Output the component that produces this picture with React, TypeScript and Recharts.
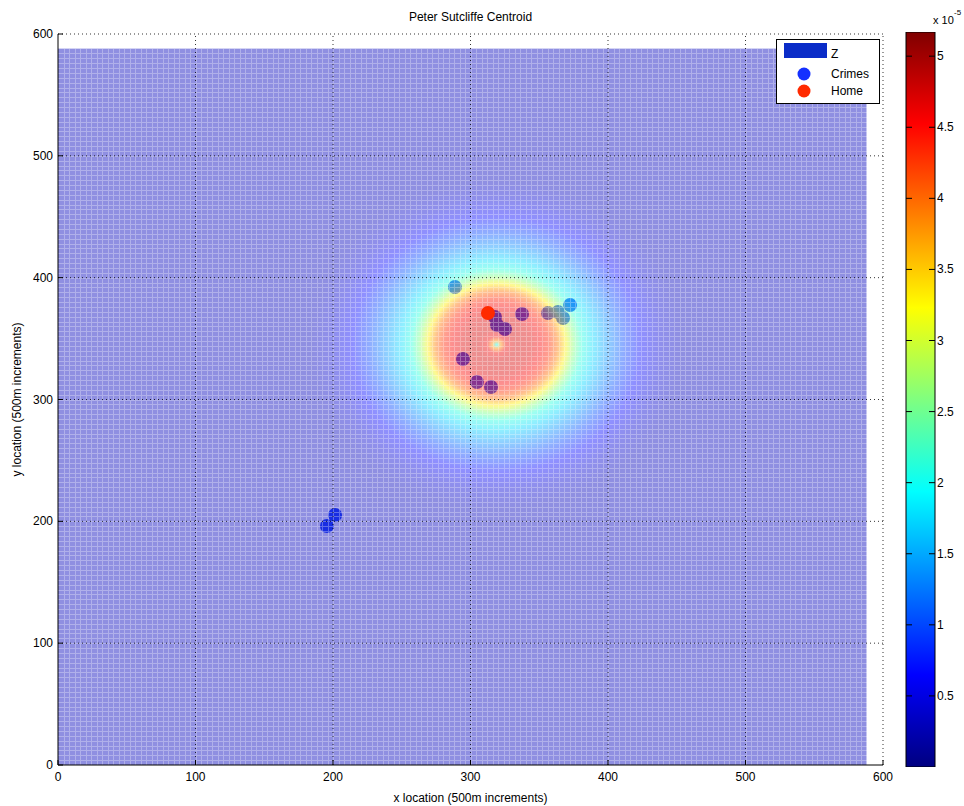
import React from "react";
import {
  Bar,
  BarChart,
  Legend,
  ReferenceArea,
  ReferenceLine,
  Scatter,
  ScatterChart,
  XAxis,
  YAxis,
} from "recharts";

const AXIS_TICKS = [0, 100, 200, 300, 400, 500, 600];
const CBAR_TICKS = [0.5, 1, 1.5, 2, 2.5, 3, 3.5, 4, 4.5, 5];

// crime sites and home (500m grid units)
const CRIME_X = [288.7, 317.8, 319.3, 325.1, 337.5, 356.4, 363.6, 367.3, 372.4, 294.5, 304.7, 314.9, 201.5, 195.6];
const CRIME_Y = [392.3, 367.7, 361.2, 357.9, 370.2, 371.0, 371.8, 366.9, 377.6, 333.3, 314.4, 310.3, 205.2, 196.2];
const HOME_X = [312.7];
const HOME_Y = [371.0];

// Z surface: radial profile around the centroid
const CENTROID_X = 319;
const CENTROID_Y = 345;
const SURFACE_MAX = 588;
const MESH_STEP = 4;
const PROFILE_R = [0, 3, 7, 14, 24, 32, 38, 44, 50, 56, 62, 70, 80, 92, 105, 120, 135];
const PROFILE_Z = [2.0, 3.8, 4.6, 4.75, 4.7, 4.55, 4.35, 3.95, 3.3, 2.6, 2.1, 1.75, 1.4, 1.0, 0.65, 0.42, 0.3];
const Z_MAX = 5.17;
const JET_STOPS = [0, 0.125, 0.375, 0.625, 0.875, 1];

const LEGEND_LABELS = ["Z", "Crimes", "Home"];
const CRIME_COLOR = "#2a50ff";
const HOME_COLOR = "#ff2a00";

const FONT = "'Liberation Sans', Arial, sans-serif";

function jet(t: number) {
  const c = (v: number) => Math.round(255 * Math.max(0, Math.min(1, v)));
  const u = Math.max(0, Math.min(1, t));
  return `rgb(${c(1.5 - Math.abs(4 * u - 3))},${c(1.5 - Math.abs(4 * u - 2))},${c(1.5 - Math.abs(4 * u - 1))})`;
}

const crimes = CRIME_X.map((x, i) => ({ x, y: CRIME_Y[i] }));
const home = HOME_X.map((x, i) => ({ x, y: HOME_Y[i] }));
const cbarData = [{ name: "Z", z: Z_MAX }];

function Surface(props: any) {
  const { x, y, width, height } = props;
  const kx = width / SURFACE_MAX;
  const ky = height / SURFACE_MAX;
  const cx = x + CENTROID_X * kx;
  const cy = y + height - CENTROID_Y * ky;
  const rMax = PROFILE_R[PROFILE_R.length - 1];
  const rx = rMax * kx;
  const ry = rMax * ky;
  let d = "";
  for (let v = MESH_STEP; v < SURFACE_MAX; v += MESH_STEP) {
    const px = Math.round(x + v * kx) + 0.5;
    const py = Math.round(y + height - v * ky) + 0.5;
    d += `M${px},${y}V${y + height}M${x},${py}H${x + width}`;
  }
  return (
    <g>
      <defs>
        <radialGradient
          id="zsurf"
          gradientUnits="userSpaceOnUse"
          cx={cx}
          cy={cy}
          r={rx}
          gradientTransform={`translate(${cx} ${cy}) scale(1 ${ry / rx}) translate(${-cx} ${-cy})`}
        >
          {PROFILE_R.map((r, i) => (
            <stop key={i} offset={r / rMax} stopColor={jet(PROFILE_Z[i] / Z_MAX)} />
          ))}
        </radialGradient>
      </defs>
      <rect x={x} y={y} width={width} height={height} fill="url(#zsurf)" fillOpacity={0.44} />
      <path d={d} stroke="#fff" strokeOpacity={0.3} strokeWidth={1} shapeRendering="crispEdges" fill="none" />
    </g>
  );
}

const XTick = (p: any) => (
  <g>
    <line x1={p.x} x2={p.x} y1={p.y} y2={p.y - 5} stroke="#000" />
    <text x={p.x} y={p.y + 16} textAnchor="middle" fontSize={12} fill="#000">
      {p.payload.value}
    </text>
  </g>
);

const YTick = (p: any) => (
  <g>
    <line x1={p.x} x2={p.x + 5} y1={p.y} y2={p.y} stroke="#000" />
    <text x={p.x - 5} y={p.y + 4} textAnchor="end" fontSize={12} fill="#000">
      {p.payload.value}
    </text>
  </g>
);

const CbarTick = (p: any) => (
  <g>
    <line x1={p.x - 29} x2={p.x - 23} y1={p.y} y2={p.y} stroke="#000" />
    <line x1={p.x - 6} x2={p.x} y1={p.y} y2={p.y} stroke="#000" />
    <text x={p.x + 2} y={p.y + 4} fontSize={12} fill="#000">
      {p.payload.value}
    </text>
  </g>
);

function LegendBox() {
  return (
    <svg width={104} height={65} style={{ display: "block", fontFamily: FONT }}>
      <rect x={0.5} y={0.5} width={103} height={64} fill="#fff" stroke="#000" />
      <rect x={8} y={4} width={43} height={15} fill="#0a2cc8" />
      <text x={55} y={19} fontSize={12}>{LEGEND_LABELS[0]}</text>
      <circle cx={28} cy={35} r={6.5} fill="#1430ff" />
      <text x={55} y={39} fontSize={12}>{LEGEND_LABELS[1]}</text>
      <circle cx={28} cy={52} r={6.5} fill={HOME_COLOR} />
      <text x={55} y={56} fontSize={12}>{LEGEND_LABELS[2]}</text>
    </svg>
  );
}

export default function App() {
  return (
    <div
      style={{
        position: "absolute",
        left: 0,
        top: 0,
        width: 964,
        height: 806,
        overflow: "hidden",
        background: "#fff",
        fontFamily: FONT,
      }}
    >
      <div style={{ position: "absolute", left: 58, top: 10, width: 825, textAlign: "center", fontSize: 12, lineHeight: "14px" }}>
        Peter Sutcliffe Centroid
      </div>
      <div style={{ position: "absolute", left: 0, top: 0 }}>
        <ScatterChart width={964} height={806} margin={{ top: 34, right: 81, bottom: 0, left: 0 }}>
          <XAxis
            type="number"
            dataKey="x"
            domain={[0, 600]}
            ticks={AXIS_TICKS}
            interval={0}
            height={41}
            tickSize={0}
            tickMargin={0}
            tick={<XTick />}
            stroke="#000"
            label={{ value: "x location (500m increments)", position: "insideBottom", offset: 4, fontSize: 12, fill: "#000" }}
          />
          <YAxis
            type="number"
            dataKey="y"
            domain={[0, 600]}
            ticks={AXIS_TICKS}
            interval={0}
            width={58}
            tickSize={0}
            tickMargin={0}
            tick={<YTick />}
            stroke="#000"
            label={{
              value: "y location (500m increments)",
              angle: -90,
              position: "insideLeft",
              offset: 17,
              fontSize: 12,
              fill: "#000",
              style: { textAnchor: "middle" },
            }}
          />
          <Scatter
            data={crimes}
            zIndex={110}
            isAnimationActive={false}
            shape={(p: any) => <circle cx={p.cx} cy={p.cy} r={7} fill={CRIME_COLOR} />}
          />
          <ReferenceArea
            x1={0}
            x2={SURFACE_MAX}
            y1={0}
            y2={SURFACE_MAX}
            zIndex={120}
            shape={(p: any) => <Surface {...p} />}
          />
          {AXIS_TICKS.slice(1).map((v) => (
            <ReferenceLine key={"gx" + v} x={v} zIndex={130} stroke="#000" strokeDasharray="1 3" strokeOpacity={0.8} />
          ))}
          {AXIS_TICKS.slice(1).map((v) => (
            <ReferenceLine key={"gy" + v} y={v} zIndex={130} stroke="#000" strokeDasharray="1 3" strokeOpacity={0.8} />
          ))}
          <Scatter
            data={home}
            zIndex={140}
            isAnimationActive={false}
            shape={(p: any) => <circle cx={p.cx} cy={p.cy} r={7} fill={HOME_COLOR} />}
          />
          <Legend
            layout="horizontal"
            verticalAlign="middle"
            align="center"
            content={() => <LegendBox />}
            wrapperStyle={{ position: "absolute", left: 776, top: 39, width: 104, height: 65 }}
          />
        </ScatterChart>
      </div>
      <div style={{ position: "absolute", left: 880, top: 0 }}>
        <BarChart width={84} height={806} data={cbarData} margin={{ top: 32, right: 0, bottom: 39, left: 26 }} barCategoryGap={0}>
          <defs>
            <linearGradient id="jetbar" x1="0" y1="1" x2="0" y2="0">
              {JET_STOPS.map((t) => (
                <stop key={t} offset={t} stopColor={jet(t)} />
              ))}
            </linearGradient>
          </defs>
          <XAxis dataKey="name" hide />
          <YAxis
            type="number"
            orientation="right"
            domain={[0, Z_MAX]}
            ticks={CBAR_TICKS}
            interval={0}
            width={29}
            axisLine={false}
            tickLine={false}
            tickSize={0}
            tickMargin={0}
            tick={<CbarTick />}
            allowDataOverflow
          />
          <Bar dataKey="z" fill="url(#jetbar)" stroke="#000" isAnimationActive={false} />
        </BarChart>
      </div>
      <div style={{ position: "absolute", left: 933, top: 13, fontSize: 11, lineHeight: "14px" }}>x 10</div>
      <div style={{ position: "absolute", left: 954, top: 8, fontSize: 8, lineHeight: "9px" }}>-5</div>
    </div>
  );
}
